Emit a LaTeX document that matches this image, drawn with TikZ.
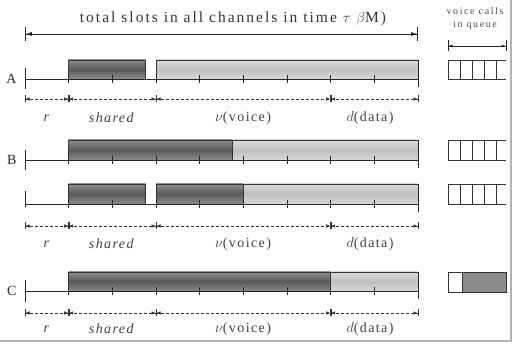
\documentclass[tikz,border=0pt]{standalone}
\usepackage{fontspec}
\setmainfont{Liberation Serif}[LetterSpace=10]
\usepackage{amsmath}
\usetikzlibrary{arrows.meta}

\begin{document}
\begin{tikzpicture}[x=1pt, y=-1pt,
				axisline/.style={line width=0.9pt, black!85},
				tickline/.style={line width=0.8pt, black!85},
				darkbar/.style={draw=black!80, line width=0.6pt, top color=black!45, bottom color=black!45, middle color=black!65},
				lightbar/.style={draw=black!80, line width=0.6pt, top color=black!15, bottom color=black!15, middle color=black!25},
				dimline/.style={densely dashed, line width=0.5pt, black!80, {Bar[width=7pt]Latex[length=4pt,width=3.5pt]}-{Latex[length=4pt,width=3.5pt]Bar[width=7pt]}},
				spanline/.style={line width=0.8pt, black!85, {Bar[width=14pt]Latex[length=6pt,width=4pt]}-{Latex[length=6pt,width=4pt]Bar[width=14pt]}},
				qspanline/.style={line width=0.5pt, black!85, {Bar[width=11pt]Latex[length=4pt,width=3pt]}-{Latex[length=4pt,width=3pt]Bar[width=11pt]}},
				queueline/.style={line width=0.5pt, black!80},
				rowlabel/.style={font=\fontsize{14}{14}\selectfont, anchor=east, black!85},
				dimlabel/.style={font=\fontsize{14}{14}\selectfont, black!75},
				smalllabel/.style={font=\fontsize{10}{13}\selectfont\addfontfeatures{LetterSpace=16}, align=center, black!70},
				]
		\useasboundingbox (0,0) rectangle (514,344);

				%Title
				\coordinate (spanL) at (25,34);
				\coordinate (spanR) at (418,34);
				\draw[spanline] (spanL) -- (spanR);
				\node[font=\fontsize{15.5}{16}\selectfont\addfontfeatures{LetterSpace=13}, black!80] (title) at (233,19) {total slots in all channels in time $\tau\ \beta$M)};

				%Bars
				\draw[darkbar] (68.7,60) rectangle (145.5,79);
				\draw[lightbar] (156,60) rectangle (418,79);
				\draw[darkbar] (68.7,140) rectangle (232,160);
				\draw[lightbar] (232,140) rectangle (418,160);
				\draw[darkbar] (68.7,184) rectangle (145.5,204);
				\draw[darkbar] (156,184) rectangle (243.3,204);
				\draw[lightbar] (243.3,184) rectangle (418,204);
				\draw[darkbar] (68.7,272) rectangle (330.7,291);
				\draw[lightbar] (330.7,272) rectangle (418,291);

				%Axes
				\foreach \r/\y/\up/\dn in {A/79/11/10, B/160/10/10, E/204/13/3, C/291/11/11} {
					\foreach \i in {0,...,9}
						\coordinate (\r\i) at ({25+\i*43.667},\y);
					\draw[axisline] (\r0) -- (\r9);
					\foreach \i in {1,...,8}
						\draw[tickline] ([yshift=4pt]\r\i) -- ([yshift=-4pt]\r\i);
					\draw[tickline] ([yshift=\up pt]\r0) -- ([yshift=-\dn pt]\r0);
					\draw[tickline] ([yshift=19pt]\r9) -- ([yshift=-8pt]\r9);
				}
				\node[rowlabel] (labA) at (20,79) {A};
				\node[rowlabel] (labB) at (20,160) {B};
				\node[rowlabel] (labC) at (20,291) {C};

				%Dimensions
				\foreach \r/\dy/\ly in {A/99/118, B/226/244, C/313/329} {
					\foreach \i in {0,1,3,7,9}
						\coordinate (d\r\i) at ({25+\i*43.667},\dy);
					\draw[dimline] (d\r0) -- (d\r1);
					\draw[dimline] (d\r1) -- (d\r3);
					\draw[dimline] (d\r3) -- (d\r7);
					\draw[dimline] (d\r7) -- (d\r9);
					\node[dimlabel] (r\r) at (47,\ly) {\textit{r}};
					\node[dimlabel] (shared\r) at (112,\ly) {\textit{shared}};
					\node[dimlabel] (voice\r) at (243,\ly) {$\nu$(voice)};
					\node[dimlabel] (data\r) at (370,\ly) {$d$(data)};
				}

				%Queues
				\node[smalllabel] (qhead) at (475,19) {voice calls\\in queue};
				\coordinate (qL) at (448,46);
				\coordinate (qR) at (506,46);
				\draw[qspanline] (qL) -- (qR);
				\foreach \t/\b in {60/79, 140/160, 184/204} {
					\draw[queueline] (448,\t) -- (506,\t);
					\draw[queueline] (448,\b) -- (506,\b);
					\foreach \q in {0,...,4}
						\draw[queueline] ({448+\q*12},\t) -- ({448+\q*12},\b);
				}
				\draw[queueline] (448,272) rectangle (462,292);
				\draw[queueline, fill=black!45] (462,272) rectangle (506,292);

				%Frame
				\draw[black!30, line width=2pt] (511,0) -- (511,341) -- (0,341);
			\end{tikzpicture}
\end{document}
